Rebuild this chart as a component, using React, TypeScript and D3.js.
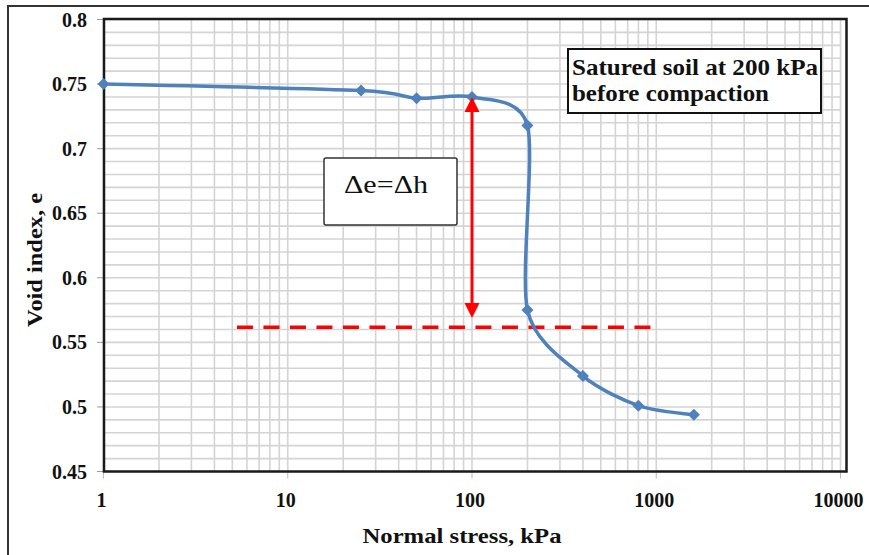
import React from "react";
import * as d3 from "d3";

const stress = [1, 25, 50, 100, 200, 200, 400, 800, 1600];
const voidIndex = [0.75, 0.745, 0.739, 0.74, 0.718, 0.575, 0.524, 0.501, 0.494];

const xTickValues = [1, 10, 100, 1000, 10000];
const xTickLabels = ["1", "10", "100", "1000", "10000"];
const yTickValues = [0.45, 0.5, 0.55, 0.6, 0.65, 0.7, 0.75, 0.8];
const yTickLabels = ["0.45", "0.5", "0.55", "0.6", "0.65", "0.7", "0.75", "0.8"];

// annotations (data units)
const arrowStress = [100];
const arrowRange = [0.74, 0.5689];
const dashedStress = [5.3, 1000];
const dashedVoid = [0.5617];

const W = 869;
const H = 555;
const plot = { left: 104, top: 19, right: 846.5, bottom: 471.5 };

export default function App() {
  const x = d3.scaleLog().domain([1, 10000]).range([103.5, 840.5]);
  const y = d3.scaleLinear().domain([0.45, 0.8]).range([471.5, 19.5]);

  const vGrid: number[] = [];
  for (let d = 0; d < 4; d++) {
    for (let k = 1; k <= 9; k++) vGrid.push(k * Math.pow(10, d));
  }
  vGrid.push(10000);
  const hGrid: number[] = d3.range(45, 81).map((v) => v / 100);

  const pts = stress.map((s, i) => [x(s), y(voidIndex[i])] as [number, number]);
  const line = d3.line().curve(d3.curveCardinal.tension(0.2))(pts) || "";

  const serif = "'Liberation Serif', 'Times New Roman', serif";
  const blue = "#4f81bd";
  const ax = x(arrowStress[0]);
  const aTop = y(arrowRange[0]);
  const aBot = y(arrowRange[1]);
  const head = 15;

  return (
    <svg
      width={W}
      height={H}
      style={{ position: "absolute", left: 0, top: 0, background: "#fff" }}
    >
      <rect x={0} y={0} width={W} height={H} fill="#fff" />
      {/* outer frame */}
      <rect x={8} y={6} width={W + 20} height={H + 20} fill="none" stroke="#333" strokeWidth={2} />

      {/* gridlines */}
      {hGrid.map((v, i) => (
        <line key={"h" + i} x1={plot.left} x2={x(10000)} y1={y(v)} y2={y(v)} stroke="#d4d4d4" strokeWidth={1.6} />
      ))}
      {vGrid.map((v, i) => (
        <line key={"v" + i} x1={x(v)} x2={x(v)} y1={plot.top} y2={plot.bottom} stroke="#d4d4d4" strokeWidth={1.6} />
      ))}

      {/* ticks */}
      {yTickValues.map((v, i) => (
        <line key={"yt" + i} x1={97} x2={plot.left} y1={y(v)} y2={y(v)} stroke="#999" strokeWidth={1} />
      ))}
      {xTickValues.map((v, i) => (
        <line key={"xt" + i} x1={x(v)} x2={x(v)} y1={plot.bottom} y2={plot.bottom + 7} stroke="#bbb" strokeWidth={1} />
      ))}

      {/* plot frame */}
      <rect
        x={plot.left}
        y={plot.top}
        width={plot.right - plot.left}
        height={plot.bottom - plot.top}
        fill="none"
        stroke="#1a1a1a"
        strokeWidth={2.5}
      />

      {/* tick labels */}
      {yTickValues.map((v, i) => (
        <text key={"yl" + i} x={87} y={y(v) + 7} textAnchor="end" fontFamily={serif} fontWeight="bold" fontSize={20} fill="#111">
          {yTickLabels[i]}
        </text>
      ))}
      {xTickValues.map((v, i) => (
        <text key={"xl" + i} x={x(v) - 2} y={507} textAnchor="middle" fontFamily={serif} fontWeight="bold" fontSize={20} fill="#111">
          {xTickLabels[i]}
        </text>
      ))}

      {/* axis titles */}
      <text x={462} y={543} textAnchor="middle" fontFamily={serif} fontWeight="bold" fontSize={22} textLength={199} lengthAdjust="spacingAndGlyphs" fill="#111">
        Normal stress, kPa
      </text>
      <text
        transform="translate(42,260) rotate(-90)"
        textAnchor="middle"
        fontFamily={serif}
        fontWeight="bold"
        fontSize={22}
        textLength={134}
        lengthAdjust="spacingAndGlyphs"
        fill="#111"
      >
        Void index, e
      </text>

      {/* dashed red line */}
      <line
        x1={x(dashedStress[0])}
        x2={x(dashedStress[1])}
        y1={y(dashedVoid[0])}
        y2={y(dashedVoid[0])}
        stroke="#ff0000"
        strokeWidth={3.5}
        strokeDasharray="16 10.5"
      />

      {/* data curve */}
      <path d={line} fill="none" stroke={blue} strokeWidth={3.5} strokeLinejoin="round" />
      {pts.map((p, i) => (
        <path key={"m" + i} d="M0,-6L6,0L0,6L-6,0Z" transform={`translate(${p[0]},${p[1]})`} fill={blue} />
      ))}

      {/* red double arrow */}
      <line x1={ax} x2={ax} y1={aTop + head} y2={aBot - head} stroke="#ff0000" strokeWidth={3} />
      <path d={`M${ax},${aTop}L${ax + 7.5},${aTop + head}L${ax - 7.5},${aTop + head}Z`} fill="#ff0000" />
      <path d={`M${ax},${aBot}L${ax + 7.5},${aBot - head}L${ax - 7.5},${aBot - head}Z`} fill="#ff0000" />

      {/* delta box */}
      <rect x={324} y={158} width={133} height={67} rx={2} fill="#fff" stroke="#333" strokeWidth={1.5} />
      <text x={344} y={193} fontFamily={serif} fontSize={25} textLength={84} lengthAdjust="spacingAndGlyphs" fill="#111">
        Δe=Δh
      </text>

      {/* saturated soil box */}
      <rect x={568} y={49} width={253} height={64} fill="#fff" stroke="#111" strokeWidth={2} />
      <text x={572} y={75} fontFamily={serif} fontWeight="bold" fontSize={22.5} textLength={246} lengthAdjust="spacingAndGlyphs" fill="#111">
        Satured soil at 200 kPa
      </text>
      <text x={572} y={101} fontFamily={serif} fontWeight="bold" fontSize={22.5} textLength={197} lengthAdjust="spacingAndGlyphs" fill="#111">
        before compaction
      </text>
    </svg>
  );
}
